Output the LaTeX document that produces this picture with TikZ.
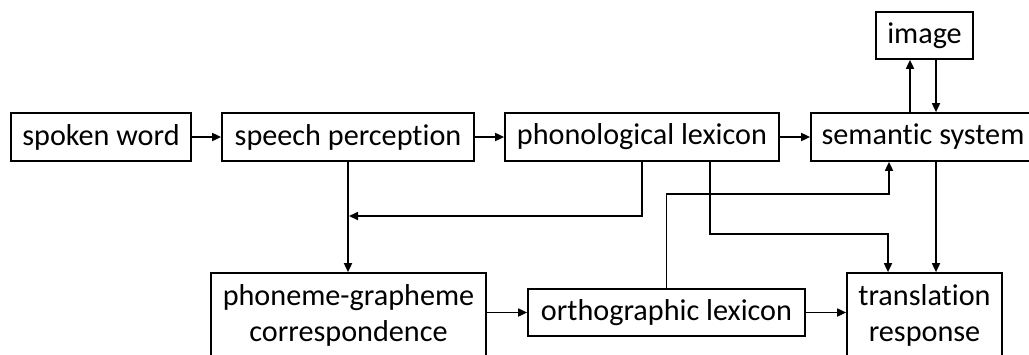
\documentclass[tikz,border=0pt]{standalone}
\usepackage{fontspec}
\setmainfont{Carlito}[Ligatures=NoCommon]
\usetikzlibrary{arrows.meta,calc}
\begin{document}
\begin{tikzpicture}[x=1pt,y=-1pt,
  box/.style={draw,line width=1.7pt,inner sep=0pt,align=center,
              font=\fontsize{30.2}{36}\selectfont},
  arr/.style={line width=1.7pt,-{Triangle[length=9pt,width=8pt]}}]
\useasboundingbox (0,0) rectangle (1029,354);

% boxes
\node[box,minimum width=180pt,minimum height=48pt] (sw)  at (101,137)   {spoken word};
\node[box,minimum width=252pt,minimum height=48pt] (sp)  at (348,137)   {speech perception};
\node[box,minimum width=274pt,minimum height=48pt] (pl)  at (642,137)   {phonological lexicon};
\node[box,minimum width=224pt,minimum height=48pt] (sem) at (923,137)   {semantic system};
\node[box,minimum width=97pt, minimum height=47pt] (img) at (924.5,35.5) {image};
\node[box,minimum width=275pt,minimum height=84pt] (pg)  at (348.5,315) {phoneme-grapheme\\correspondence};
\node[box,minimum width=277pt,minimum height=47pt] (ol)  at (666.5,312.5) {orthographic lexicon};
\node[box,minimum width=155pt,minimum height=84pt] (tr)  at (924.5,315) {translation\\response};

% column and row positions of the connectors
\coordinate (x710) at (710,0);
\coordinate (x888) at (888,0);
\coordinate (x889) at (889,0);
\coordinate (x910) at (910,0);
\coordinate (x936) at (936,0);
\coordinate (y194) at (0,194);
\coordinate (y216) at (0,216);
\coordinate (y234) at (0,234);

% top row
\draw[arr] (sw.east) -- (sp.west);
\draw[arr] (sp.east) -- (pl.west);
\draw[arr] (pl.east) -- (sem.west);

% semantic system <-> image
\draw[arr] (sem.north -| x910) -- (img.south -| x910);
\draw[arr] (img.south -| x936) -- (sem.north -| x936);

% speech perception -> phoneme-grapheme, joined by phonological lexicon
\draw[arr] (sp.south) -- (sp.south |- pg.north);
\draw[arr] (pl.south) |- ($(sp.south |- y216)+(1,0)$);

% phonological lexicon -> translation response
\draw[arr] (pl.south -| x710) -- (x710 |- y234) -| (tr.north -| x888);

% semantic system -> translation response
\draw[arr] (sem.south -| x936) -- (tr.north -| x936);

% orthographic lexicon -> semantic system
\draw[arr] (ol.north) -- (ol.north |- y194) -| (sem.south -| x889);

% bottom row
\draw[arr] (pg.east |- ol.west) -- (ol.west);
\draw[arr] (ol.east) -- (ol.east -| tr.west);
\end{tikzpicture}
\end{document}
